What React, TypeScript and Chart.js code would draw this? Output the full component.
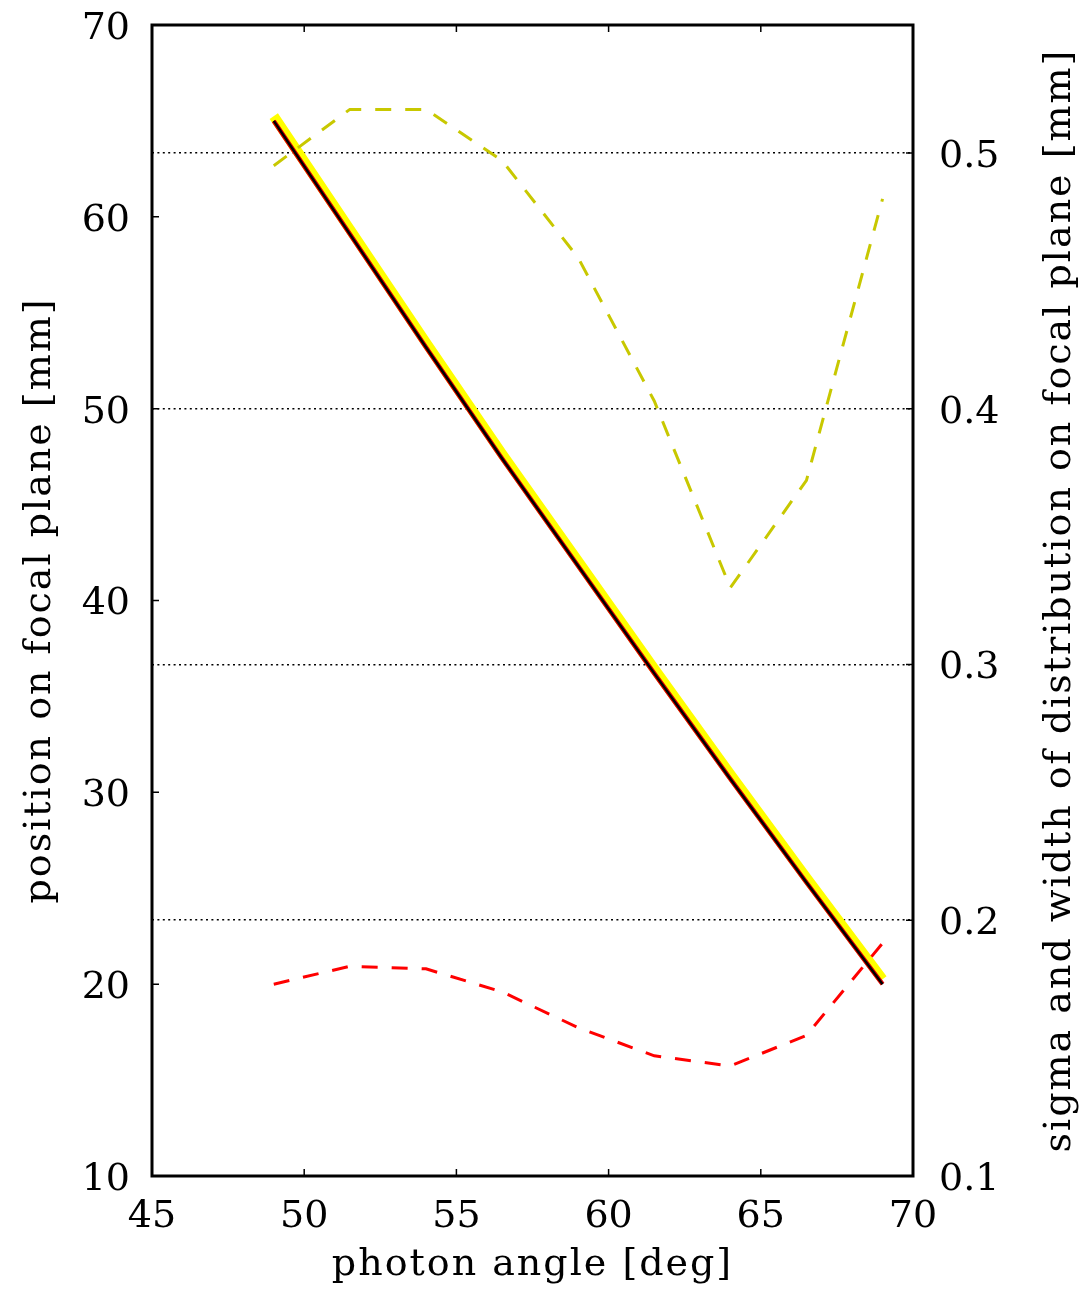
import React, { useEffect, useRef } from 'react';
import { Chart, registerables } from 'chart.js';

Chart.register(...registerables);

// ---- data ----
const angles = [49, 51.5, 54, 56.5, 59, 61.5, 64, 66.5, 69];
const positionCentre = [65.0, 59.1, 53.2, 47.4, 41.8, 36.2, 30.7, 25.3, 20.0];
const positionPeak = [65.25, 59.35, 53.45, 47.65, 42.05, 36.45, 30.95, 25.55, 20.25];
const widthValues = [0.495, 0.517, 0.517, 0.497, 0.459, 0.403, 0.33, 0.372, 0.482];
const sigmaValues = [0.175, 0.182, 0.181, 0.172, 0.158, 0.147, 0.143, 0.155, 0.191];

const xTicks = [45, 50, 55, 60, 65, 70];
const leftTicks = [10, 20, 30, 40, 50, 60, 70];
const rightTicks = [0.1, 0.2, 0.3, 0.4, 0.5];

const xTitle = 'photon angle [deg]';
const leftTitle = 'position on focal plane [mm]';
const rightTitle = 'sigma and width of distribution on focal plane [mm]';

const FONT = '"DejaVu Serif", serif';
const TICK_SIZE = 38;
const TITLE_SIZE = 38;

const pts = (ys: number[]) => angles.map((x, i) => ({ x, y: ys[i] }));

const noPad = (s: any) => {
  s.paddingTop = 0;
  s.paddingBottom = 0;
  s.paddingLeft = 0;
  s.paddingRight = 0;
};

const framePlugin = {
  id: 'frameAndTitles',
  afterDraw(chart: any) {
    const { ctx, chartArea: a, scales } = chart;
    const x = scales.x;
    const y = scales.y;
    const y1 = scales.y1;
    ctx.save();
    // inner ticks
    ctx.strokeStyle = '#000';
    ctx.lineWidth = 1.5;
    const tl = 7;
    ctx.beginPath();
    xTicks.forEach((v) => {
      const px = x.getPixelForValue(v);
      ctx.moveTo(px, a.bottom);
      ctx.lineTo(px, a.bottom - tl);
      ctx.moveTo(px, a.top);
      ctx.lineTo(px, a.top + tl);
    });
    leftTicks.forEach((v) => {
      const py = y.getPixelForValue(v);
      ctx.moveTo(a.left, py);
      ctx.lineTo(a.left + tl, py);
    });
    rightTicks.forEach((v) => {
      const py = y1.getPixelForValue(v);
      ctx.moveTo(a.right, py);
      ctx.lineTo(a.right - tl, py);
    });
    ctx.stroke();
    // frame
    ctx.lineWidth = 3;
    ctx.strokeRect(a.left, a.top, a.right - a.left, a.bottom - a.top);

    // titles
    ctx.fillStyle = '#000';
    ctx.font = `${TITLE_SIZE}px ${FONT}`;
    (ctx as any).letterSpacing = '2px';
    ctx.textAlign = 'center';
    ctx.textBaseline = 'middle';
    const midY = (a.top + a.bottom) / 2;
    ctx.fillText(xTitle, (a.left + a.right) / 2, 1265);

    ctx.save();
    ctx.translate(40, midY);
    ctx.rotate(-Math.PI / 2);
    ctx.fillText(leftTitle, 0, 0);
    ctx.restore();

    ctx.save();
    ctx.translate(1060, midY);
    ctx.rotate(-Math.PI / 2);
    ctx.fillText(rightTitle, 0, 0);
    ctx.restore();

    ctx.restore();
  },
};

export default function App() {
  const ref = useRef<HTMLCanvasElement | null>(null);

  useEffect(() => {
    if (!ref.current) return;
    const chart = new Chart(ref.current, {
      type: 'line',
      data: {
        datasets: [
          {
            label: 'sigma',
            data: pts(sigmaValues),
            yAxisID: 'y1',
            borderColor: '#ff0000',
            borderWidth: 3,
            borderDash: [16, 14],
            pointRadius: 0,
            tension: 0,
            order: 0,
          },
          {
            label: 'width',
            data: pts(widthValues),
            yAxisID: 'y1',
            borderColor: '#c8c800',
            borderWidth: 3,
            borderDash: [16, 14],
            pointRadius: 0,
            tension: 0,
            order: 1,
          },
          {
            label: 'centre core',
            data: pts(positionCentre),
            yAxisID: 'y',
            borderColor: '#000000',
            borderWidth: 2.5,
            pointRadius: 0,
            tension: 0,
            order: 2,
          },
          {
            label: 'centre edge',
            data: pts(positionCentre),
            yAxisID: 'y',
            borderColor: '#e00000',
            borderWidth: 4.5,
            pointRadius: 0,
            tension: 0,
            order: 3,
          },
          {
            label: 'peak',
            data: pts(positionPeak),
            yAxisID: 'y',
            borderColor: '#ffff00',
            borderWidth: 10,
            borderCapStyle: 'butt',
            pointRadius: 0,
            tension: 0,
            order: 4,
          },
        ],
      },
      options: {
        animation: false,
        responsive: false,
        maintainAspectRatio: false,
        layout: { padding: { top: 25, left: 0, right: 0, bottom: 0 } },
        plugins: {
          legend: { display: false },
          tooltip: { enabled: false },
        },
        scales: {
          x: {
            type: 'linear',
            position: 'bottom',
            min: 45,
            max: 70,
            afterBuildTicks: (s: any) => {
              s.ticks = xTicks.map((v) => ({ value: v }));
            },
            afterFit: (s: any) => {
              s.height = 113;
              noPad(s);
            },
            grid: { display: false, drawTicks: false },
            border: { display: false },
            ticks: {
              color: '#000',
              padding: 18,
              maxRotation: 0,
              font: { family: FONT, size: TICK_SIZE },
              callback: (v: any) => String(v),
            },
          },
          y: {
            type: 'linear',
            position: 'left',
            min: 10,
            max: 70,
            afterBuildTicks: (s: any) => {
              s.ticks = leftTicks.map((v) => ({ value: v }));
            },
            afterFit: (s: any) => {
              s.width = 152;
              noPad(s);
            },
            grid: { display: false, drawTicks: false },
            border: { display: false },
            ticks: {
              color: '#000',
              padding: 22,
              labelOffset: 4,
              font: { family: FONT, size: TICK_SIZE },
              callback: (v: any) => String(v),
            },
          },
          y1: {
            type: 'linear',
            position: 'right',
            min: 0.1,
            max: 0.55,
            afterBuildTicks: (s: any) => {
              s.ticks = rightTicks.map((v) => ({ value: v }));
            },
            afterFit: (s: any) => {
              s.width = 169;
              noPad(s);
            },
            grid: {
              display: true,
              drawOnChartArea: true,
              drawTicks: false,
              color: '#000',
              lineWidth: 1.6,
            },
            border: { display: false, dash: [2, 3.4] },
            ticks: {
              color: '#000',
              padding: 26,
              labelOffset: 4,
              font: { family: FONT, size: TICK_SIZE },
              callback: (v: any) => Number(v).toFixed(1),
            },
          },
        },
      },
      plugins: [framePlugin],
    });
    return () => chart.destroy();
  }, []);

  return (
    <div style={{ position: 'absolute', left: 0, top: 0, width: 1082, height: 1289, background: '#fff' }}>
      <canvas ref={ref} width={1082} height={1289} style={{ display: 'block', width: 1082, height: 1289 }} />
    </div>
  );
}
